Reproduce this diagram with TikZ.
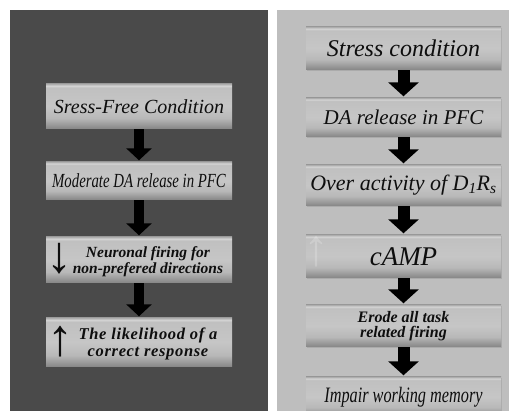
\documentclass[tikz,border=0pt]{standalone}
\usepackage{fontspec}
\setmainfont{Liberation Serif}
\newfontfamily\narrowserif[FakeStretch=0.74]{Liberation Serif}
\newfontfamily\spacedserif[LetterSpace=4]{Liberation Serif}
\usetikzlibrary{arrows.meta, shadows}
\definecolor{darkpanel}{HTML}{4A4A4A}
\definecolor{lightpanel}{HTML}{BEBEBE}
\definecolor{boxbot}{HTML}{858585}
\definecolor{boxlow}{HTML}{B8B8B8}
\definecolor{boxmid}{HTML}{C6C6C6}
\definecolor{boxhigh}{HTML}{C0C0C0}
\definecolor{boxrim}{HTML}{D4D4D4}
\definecolor{boxtop}{HTML}{AEAEAE}
\definecolor{inktext}{HTML}{0E0E0E}
% box face: dark bottom band, light rim on top
\pgfdeclareverticalshading{boxface}{100bp}{color(0bp)=(boxbot); color(25bp)=(boxbot);
  color(37bp)=(boxlow); color(50bp)=(boxmid); color(71bp)=(boxhigh);
  color(73bp)=(boxrim); color(75bp)=(boxtop); color(100bp)=(boxtop)}
\tikzset{
  stepbox/.style={rectangle, inner sep=0pt, align=center, text=inktext,
    shading=boxface},
  leftbox/.style={stepbox, minimum width=186pt},
  rightbox/.style={stepbox, minimum width=195pt,
    drop shadow={shadow xshift=1pt, shadow yshift=-1.5pt, opacity=0.3}},
  leftflow/.style={line width=10.5pt, shorten >=1.5pt,
    -{Triangle[width=25pt, length=12pt]}},
  rightflow/.style={line width=12pt, shorten >=1.5pt,
    -{Triangle[width=30pt, length=14pt]}},
  glyph/.style={text=inktext, inner sep=0pt, font=\fontsize{52}{52}\selectfont\bfseries}
}

\begin{document}
\begin{tikzpicture}[x=1pt, y=-1pt]
    \clip (0,0) rectangle (509,411);
    \fill[white] (0,0) rectangle (509,411);

    % the two panels
    \fill[darkpanel] (10,10) rectangle (268,420);
    \fill[lightpanel] (277,10) rectangle (515,420);

    % stress-free side
    \node[leftbox, minimum height=45pt,
      font=\fontsize{20}{22}\selectfont\itshape] (calm) at (139,106.5)
      {Sress-Free Condition};
    \node[leftbox, minimum height=38pt,
      font=\narrowserif\fontsize{20}{22}\selectfont\itshape] (modda) at (139,181)
      {Moderate DA release in PFC};
    \node[leftbox, minimum height=46pt] (neur) at (139,260) {};
    \node[text=inktext, align=center, inner sep=0pt,
      font=\fontsize{15.5}{16}\selectfont\bfseries\itshape] (neurtxt) at (148,262)
      {Neuronal firing for\\non-prefered directions};
    \node[glyph] (neurdn) at (59,259) {↓};
    \node[leftbox, minimum height=49pt] (resp) at (139,342.5) {};
    \node[text=inktext, align=center, inner sep=0pt,
      font=\spacedserif\fontsize{16.5}{17}\selectfont\bfseries\itshape] (resptxt) at (148,344)
      {The likelihood of a\\correct response};
    \node[glyph] (respup) at (60,342) {↑};

    \draw[leftflow] (calm) -- (modda);
    \draw[leftflow] (modda) -- (neur);
    \draw[leftflow] (neur) -- (resp);

    % stress side
    \node[rightbox, minimum height=43pt,
      font=\fontsize{24}{26}\selectfont\itshape] (stress) at (403.5,48.5)
      {Stress condition};
    \node[rightbox, minimum height=39pt,
      font=\fontsize{21}{23}\selectfont\itshape] (darel) at (403.5,117.5)
      {DA release in PFC};
    \node[rightbox, minimum height=41pt,
      font=\fontsize{22}{24}\selectfont\itshape] (dover) at (403.5,185.5)
      {Over activity of D\textsubscript{1}R\textsubscript{s}};
    \node[rightbox, minimum height=43pt,
      font=\fontsize{27}{29}\selectfont\itshape] (camp) at (403.5,256.5)
      {cAMP};
    \node[glyph, text=white, opacity=0.2] (campghost) at (316,252) {↑};
    \node[rightbox, minimum height=42pt,
      font=\fontsize{16}{15}\selectfont\bfseries\itshape] (erode) at (403.5,326)
      {Erode all task\\related firing};
    \node[rightbox, minimum height=40pt,
      font=\narrowserif\fontsize{22}{24}\selectfont\itshape] (impair) at (403.5,397)
      {Impair working memory};

    \draw[rightflow] (stress) -- (darel);
    \draw[rightflow] (darel) -- (dover);
    \draw[rightflow] (dover) -- (camp);
    \draw[rightflow] (camp) -- (erode);
    \draw[rightflow] (erode) -- (impair);
\end{tikzpicture}
\end{document}
